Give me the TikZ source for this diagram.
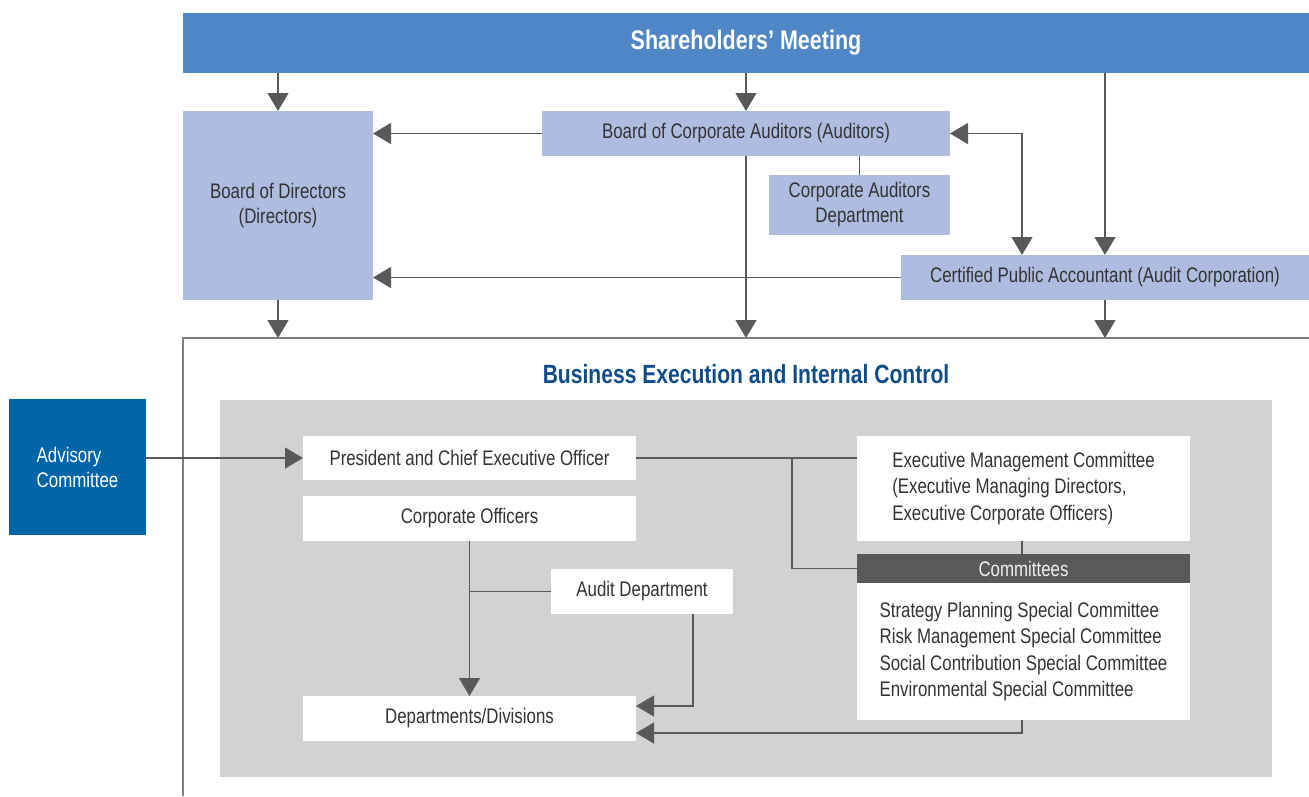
\documentclass[tikz,border=0pt]{standalone}
\usepackage{fontspec}
\setmainfont{Liberation Sans}[FakeStretch=0.8]
\usetikzlibrary{arrows.meta}
\definecolor{smblue}{HTML}{4F86C6}
\definecolor{lightbl}{HTML}{AEBCE0}
\definecolor{grayarea}{HTML}{D1D2D4}
\definecolor{advblue}{HTML}{0065A8}
\definecolor{dk}{HTML}{58595B}
\definecolor{ttl}{HTML}{0F4C8A}
\definecolor{txt}{HTML}{333333}
\definecolor{frm}{HTML}{808080}
\newcommand\bx[7]{\node[#6, minimum width={(#4-#2)*0.02cm}, minimum height={(#5-#3)*0.02cm}] (#1) at ({(#2+#4)/2},{(#3+#5)/2}) {#7};}
\begin{document}
\begin{tikzpicture}[x=0.02cm,y=-0.02cm,
  font=\fontsize{12}{14.2}\selectfont,
  box/.style={inner sep=0pt, outer sep=0pt, align=center, text=txt},
  lbox/.style={box, fill=lightbl},
  wbox/.style={box, fill=white},
  ln/.style={draw=dk, line width=0.7pt},
  arr/.style={ln, -{Triangle[length=0.36cm,width=0.42cm]}, color=dk},
  darr/.style={ln, {Triangle[length=0.36cm,width=0.42cm]}-{Triangle[length=0.36cm,width=0.42cm]}, color=dk},
  ]
\useasboundingbox (0,0) rectangle (1309,796);
% top part
\bx{sm}{183}{13}{1309}{73}{box, fill=smblue, text=white, font=\fontsize{15.3}{17}\selectfont\bfseries}{Shareholders’ Meeting}
\bx{bod}{183}{111}{373}{300}{lbox}{Board of Directors\\(Directors)}
\bx{bca}{542}{111}{950}{156}{lbox}{Board of Corporate Auditors (Auditors)}
\bx{cad}{769}{175}{950}{235}{lbox}{Corporate Auditors\\Department}
\bx{cpa}{901}{255}{1309}{300}{lbox}{Certified Public Accountant (Audit Corporation)}
% frame
\coordinate (ftl) at (183,338);
\coordinate (fbl) at (183,796);
\coordinate (ftr) at (1309,338);
\draw[draw=frm, line width=0.9pt] (fbl) -- (ftl) -- (ftr);
\node[text=ttl, font=\fontsize{15}{17}\selectfont\bfseries] (title) at (746,374) {Business Execution and Internal Control};
% business execution
\bx{ga}{220}{400}{1272}{777}{box, fill=grayarea}{}
\bx{adv}{9}{399}{146}{535}{box, fill=advblue, text=white, align=left}{Advisory\\Committee}
\bx{pres}{303}{436}{636}{480}{wbox}{President and Chief Executive Officer}
\bx{co}{303}{496}{636}{541}{wbox}{Corporate Officers}
\bx{ad}{551}{569}{733}{614}{wbox}{Audit Department}
\bx{dd}{303}{696}{636}{741}{wbox}{Departments/Divisions}
\bx{emc}{857}{436}{1190}{541}{wbox, align=left, font=\fontsize{12}{15}\selectfont}{Executive Management Committee\\(Executive Managing Directors,\\Executive Corporate Officers)}
\bx{cmh}{857}{554}{1190}{583}{box, fill=dk, text=white!88!gray}{Committees}
\bx{cml}{857}{583}{1190}{720}{wbox, align=left, font=\fontsize{12}{15}\selectfont}{Strategy Planning Special Committee\\Risk Management Special Committee\\Social Contribution Special Committee\\Environmental Special Committee}
% helper coordinates
\coordinate (j1) at (1022,0);
\coordinate (j2) at (792,0);
\coordinate (j3) at (693,706);
\coordinate (j4) at (1022,733);
% connectors top
\draw[arr] (sm.south -| bod.north) -- (bod.north);
\draw[arr] (sm.south -| bca.north) -- (bca.north);
\draw[arr] (sm.south -| cpa.north) -- (cpa.north);
\draw[arr] (bca.west) -- (bca.west -| bod.east);
\draw[darr] (bca.east) -| (cpa.north -| j1);
\draw[ln] (cad.north |- bca.south) -- (cad.north);
\draw[arr] (bca.south) -- (bca.south |- ftl);
\draw[arr] (cpa.west) -- (cpa.west -| bod.east);
\draw[arr] (bod.south) -- (bod.south |- ftl);
\draw[arr] (cpa.south) -- (cpa.south |- ftl);
% connectors bottom
\draw[arr] (adv.east |- pres.west) -- (pres.west);
\draw[ln] (pres.east) -- (pres.east -| emc.west);
\draw[ln] (pres.east -| j2) |- (cmh.west);
\draw[ln] (emc.south -| j1) -- (cmh.north -| j1);
\draw[arr] (co.south) -- (dd.north);
\draw[ln] (ad.west) -- (ad.west -| co.south);
\draw[arr] (ad.south -| j3) |- (dd.east |- j3);
\draw[arr] (cml.south -| j4) |- (dd.east |- j4);
\end{tikzpicture}
\end{document}
